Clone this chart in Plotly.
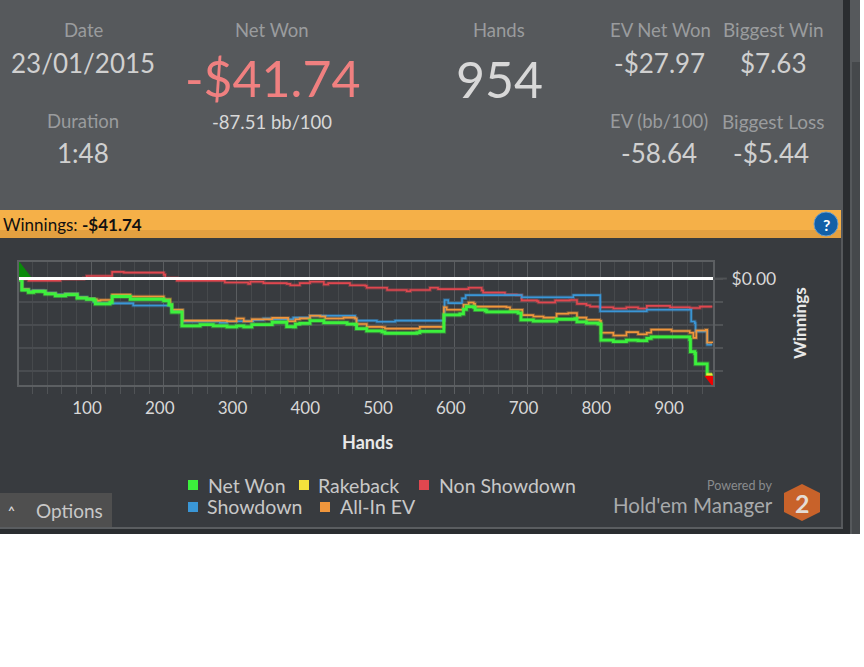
import plotly.graph_objects as go

W, H = 864, 667

# --- Data
net_hands = [1, 3, 5, 14, 21, 35, 37, 51, 65, 78, 81, 94, 104, 106, 126, 129, 152, 154, 188, 200, 207, 211, 223, 225, 250, 268, 287, 300, 310, 321, 346, 349, 367, 369, 378, 381, 387, 401, 415, 420, 447, 452, 463, 465, 477, 479, 500, 504, 548, 552, 582, 585, 607, 612, 616, 626, 628, 642, 644, 676, 687, 691, 708, 736, 740, 765, 768, 781, 797, 799, 801, 818, 836, 852, 864, 870, 923, 924, 930, 931, 945, 947, 954]
net_won = [0, -0.6, -5, -6, -5.6, -5.7, -6.7, -7.5, -7, -7, -8.5, -9, -9.6, -11, -10.4, -7.8, -7.8, -9, -9, -9.6, -11.4, -14.6, -14.6, -20.6, -20, -20.6, -21, -20.6, -21, -20, -20, -19, -19, -20.9, -21, -19.8, -19.5, -18.3, -18.3, -19.2, -19.2, -19.8, -20, -21.8, -21.8, -22.8, -23.2, -23.8, -23.5, -23, -23, -15.8, -15.4, -13.4, -12.2, -12.5, -13.6, -14, -14.5, -14.5, -15, -18, -18.5, -18.5, -17.7, -17.4, -18.8, -19.4, -19.7, -19.8, -26.8, -27.4, -26.8, -27, -26, -25.4, -26.5, -31.8, -32.6, -37.1, -37.1, -41.9, -41.74]

ev_hands = [1, 3, 5, 14, 21, 35, 37, 51, 65, 78, 81, 94, 104, 108, 113, 126, 129, 152, 154, 188, 200, 209, 211, 223, 226, 250, 268, 287, 300, 310, 321, 346, 349, 367, 371, 381, 387, 401, 415, 422, 447, 463, 465, 477, 479, 500, 504, 548, 552, 582, 585, 589, 607, 612, 619, 626, 628, 671, 676, 690, 693, 708, 722, 740, 756, 768, 781, 799, 801, 818, 836, 852, 864, 870, 898, 923, 928, 932, 945, 947, 954]
all_in_ev = [0, -0.6, -4.7, -5.8, -5.4, -5.5, -6.5, -7.3, -6.8, -6.8, -8.3, -8.8, -9, -9.6, -9.3, -9.3, -7, -7, -7.8, -7.8, -9, -11.4, -13.6, -13.6, -18.3, -18.3, -18.3, -18.6, -17.4, -18.6, -17.7, -17.7, -17.1, -17.1, -18.6, -17.7, -17.3, -16.2, -16.5, -17.4, -17, -17.4, -19.8, -19.8, -21, -21.2, -21.8, -21.8, -21, -21, -12.5, -13.6, -13.6, -11.4, -10.4, -11, -12.2, -12.5, -13.6, -13.6, -15.9, -16.5, -17, -15.3, -15, -17, -17.9, -18.4, -23.6, -24.8, -23.3, -24.2, -23.6, -22.2, -22.8, -23.6, -25.8, -22.6, -22.3, -27.8, -28]

sd_hands = [1, 3, 5, 14, 21, 35, 37, 51, 65, 78, 81, 94, 104, 110, 154, 158, 200, 209, 211, 223, 226, 277, 287, 323, 337, 346, 378, 387, 401, 447, 463, 465, 490, 493, 516, 518, 584, 586, 591, 607, 610, 615, 690, 692, 761, 763, 797, 800, 861, 864, 923, 925, 930, 931, 945, 947, 954]
showdown = [0, -0.6, -4.7, -5.5, -5.2, -5.3, -6.3, -7, -6.6, -6.6, -8.1, -8.8, -10.2, -10.8, -10.8, -11.7, -11.7, -12, -13.9, -13.9, -18.7, -19.2, -18.6, -18, -17.4, -17.7, -17, -17, -16.2, -16.2, -17.4, -18.3, -18.3, -18.8, -18.8, -18.3, -18.3, -9.3, -10.7, -10.7, -8.6, -7.2, -7.2, -8.1, -8.1, -7.2, -7.2, -14.2, -14.2, -13.6, -13.6, -18.7, -19.4, -23, -23, -28.8, -28.8]

nsd_hands = [1, 3, 14, 49, 58, 90, 94, 126, 129, 145, 190, 200, 202, 218, 282, 284, 314, 316, 319, 335, 337, 369, 374, 387, 401, 415, 420, 426, 449, 456, 477, 479, 504, 507, 532, 534, 539, 561, 566, 577, 614, 619, 637, 639, 665, 669, 685, 692, 713, 715, 736, 738, 758, 768, 781, 786, 799, 818, 836, 852, 864, 889, 896, 923, 937, 954]
non_showdown = [0, -0.3, -0.9, -0.9, -0.3, 0.3, 1.1, 1.1, 2.9, 2.6, 2.6, 1.7, 0.3, -0.9, -0.9, -1.7, -1.7, -2.3, -1.4, -1.4, -2, -2.3, -2.9, -2, -1.4, -1.4, -2.6, -2, -2, -2.9, -3.2, -4, -4, -5, -5, -5.5, -5, -5, -4, -4.6, -4.6, -4, -5.2, -6.1, -6.1, -7, -7.2, -9.5, -9.8, -10.4, -10.4, -9.5, -9.3, -11, -11.6, -12.2, -12.5, -13, -12.5, -13, -11.9, -11.9, -12.5, -12.8, -12.2, -12.2]

rb_hands = [946, 954]
rakeback = [-41.7, -41.7]

x_ticks = [100, 200, 300, 400, 500, 600, 700, 800, 900]
y_ticks = [0, -10, -20, -30, -40]
y_labels = ["$0.00", "", "", "", ""]

GREEN, YELLOW, RED, BLUE, ORANGE = "#3cf03c", "#f5e23c", "#e0474f", "#3a96d6", "#f0963c"
FONT = "Lato"

def fx(px):
    return px / W

def fy(py):
    return 1 - py / H

def rect(x0, y0, x1, y1, color):
    return dict(type="rect", xref="paper", yref="paper", x0=fx(x0), x1=fx(x1), y0=fy(y0), y1=fy(y1),
                fillcolor=color, line_width=0, layer="below")

def label(px, py, text, size, color="#d8d8d8", **kw):
    return dict(xref="paper", yref="paper", x=fx(px), y=fy(py), text=text, showarrow=False,
                font=dict(family=FONT, size=size, color=color), xanchor=kw.pop("xanchor", "center"),
                yanchor="middle", **kw)

fig = go.Figure()

# --- Lines, soft copy underneath then the sharp one
series = [
    ("Non Showdown", nsd_hands, non_showdown, RED, 1.6),
    ("Showdown", sd_hands, showdown, BLUE, 1.6),
    ("All-In EV", ev_hands, all_in_ev, ORANGE, 1.6),
    ("Net Won", net_hands, net_won, GREEN, 2.8),
    ("Rakeback", rb_hands, rakeback, YELLOW, 2),
]
for name, xs, ys, color, width in series:
    fig.add_trace(go.Scatter(x=xs, y=ys, mode="lines", line=dict(color=color, width=width + 1.8, shape="hv"),
                             opacity=0.35, showlegend=False, hoverinfo="skip"))
    fig.add_trace(go.Scatter(x=xs, y=ys, mode="lines", name=name, line=dict(color=color, width=width, shape="hv"),
                             showlegend=False))

# --- Biggest win / biggest loss flags, clipped by the plot edge
fig.add_trace(go.Scatter(x=[1], y=[3], mode="markers", showlegend=False,
                         marker=dict(symbol="triangle-up", size=21, color="#0a8a0a")))
fig.add_trace(go.Scatter(x=[955], y=[-43.9], mode="markers", showlegend=False,
                         marker=dict(symbol="triangle-down", size=15, color="#f00000")))

shapes = [
    rect(0, 0, 843, 528, "#383b3f"),
    rect(0, 0, 843, 210, "#56595c"),
    rect(0, 210, 841, 230, "#f5b048"),
    rect(0, 230, 841, 238, "#e3a040"),
    rect(841, 210, 843, 528, "#55585b"),
    rect(0, 527, 843, 529, "#5a5d60"),
    rect(0, 529, 850, 534, "#2a2d30"),
    rect(843, 0, 850, 534, "#2a2d30"),
    rect(850, 0, 860, 534, "#56595c"),
    rect(852, 62, 860, 534, "#45484b"),
    rect(0, 493, 112, 527, "#4f4f4f"),
    dict(type="circle", xref="paper", yref="paper", x0=fx(814), x1=fx(838), y0=fy(236), y1=fy(212),
         fillcolor="#1260a8", line=dict(color="#6f9ec6", width=1)),
    dict(type="path", xref="paper", yref="paper", fillcolor="#c8622a", line_width=0,
         path=f"M {fx(802)} {fy(484)} L {fx(820)} {fy(493)} L {fx(820)} {fy(512)} "
              f"L {fx(802)} {fy(521)} L {fx(784)} {fy(512)} L {fx(784)} {fy(493)} Z"),
    dict(type="line", xref="x domain", yref="y", x0=0, x1=1, y0=0, y1=0,
         line=dict(color="#ffffff", width=3), layer="above"),
    dict(type="line", xref="x domain", yref="y", x0=1, x1=1.02, y0=0, y1=0,
         line=dict(color="#505356", width=2)),
]

# --- Legend keys
legend_names = ["Net Won", "Rakeback", "Non Showdown", "Showdown", "All-In EV"]
legend_colors = [GREEN, YELLOW, RED, BLUE, ORANGE]
legend_keys = [(188, 485), (299, 485), (419, 485), (188, 507), (320, 507)]
legend_text_x = [206, 316, 437, 205, 338]
for (kx, ky), color in zip(legend_keys, legend_colors):
    shapes.append(rect(kx, ky - 5, kx + 10, ky + 5, color))

annotations = [
    label(83, 30, "Date", 18.5, "#9a9c9e"),
    label(83, 63, "23/01/2015", 26, "#d0d0d0"),
    label(83, 121, "Duration", 18.5, "#9a9c9e"),
    label(83, 153, "1:48", 26, "#d0d0d0"),
    label(272, 30, "Net Won", 18.5, "#9a9c9e"),
    label(272, 78, "-$41.74", 50, "#f08080"),
    label(272, 122, "-87.51 bb/100", 18.5, "#d8d8d8"),
    label(499, 30, "Hands", 18.5, "#9a9c9e"),
    label(499, 79, "954", 50, "#d8d8d8"),
    label(660, 30, "EV Net Won", 18.5, "#9a9c9e"),
    label(659, 63, "-$27.97", 26, "#d0d0d0"),
    label(659, 121, "EV (bb/100)", 18.5, "#9a9c9e"),
    label(659, 153, "-58.64", 26, "#d0d0d0"),
    label(773, 30, "Biggest Win", 19, "#9a9c9e"),
    label(773, 63, "$7.63", 26, "#d0d0d0"),
    label(773, 121, "Biggest Loss", 19, "#9a9c9e"),
    label(771, 153, "-$5.44", 26, "#d0d0d0"),
    label(1, 224, "Winnings: <b>-$41.74</b>", 17, "#111111", xanchor="left"),
    label(826, 224, "<b>?</b>", 16, "#ffffff"),
    label(367, 442, "<b>Hands</b>", 18, "#e8e8e8"),
    label(799, 323, "<b>Winnings</b>", 17, "#e8e8e8", textangle=-90),
    label(11, 510, "<b>^</b>", 12, "#d8d8d8"),
    label(69, 510, "Options", 19, "#c8c8c8"),
    label(739, 486, "Powered by", 12.5, "#8a8c8e"),
    label(693, 505, "Hold'em Manager", 20.5, "#a8aaac"),
    label(802, 503, "<b>2</b>", 25, "#e4dcd4"),
]
for name, tx, (kx, ky) in zip(legend_names, legend_text_x, legend_keys):
    annotations.append(label(tx, ky, name, 19.5, "#c8c8c8", xanchor="left"))

fig.update_layout(
    width=W, height=H, margin=dict(l=0, r=0, t=0, b=0), paper_bgcolor="#ffffff", plot_bgcolor="rgba(0,0,0,0)",
    font=dict(family=FONT, color="#d8d8d8"), shapes=shapes, annotations=annotations, showlegend=False,
    xaxis=dict(domain=[fx(19), fx(713)], range=[1, 955], tickvals=x_ticks, ticks="outside", ticklen=7, tickwidth=1,
               tickcolor="#5c5f62", tickfont=dict(family=FONT, size=17, color="#d8d8d8"), ticklabelshift=-4,
               showgrid=True, gridcolor="#5a5d60", gridwidth=1, zeroline=False, showline=True, linecolor="#5c5f62",
               linewidth=2, mirror=True, minor=dict(dtick=20, tick0=0, showgrid=True, gridcolor="#46494c", gridwidth=1,
                                                    ticks="outside", ticklen=7, tickcolor="#505356")),
    yaxis=dict(domain=[fy(385), fy(262)], range=[-46.3, 7.2], side="right", tickvals=y_ticks, ticktext=y_labels,
               ticks="outside", ticklen=8, tickcolor="#505356", tickwidth=2, ticklabelstandoff=5,
               tickfont=dict(family=FONT, size=17.5, color="#d8d8d8"), showgrid=True, gridcolor="#494c50", gridwidth=2,
               zeroline=False, showline=True, linecolor="#5c5f62", linewidth=2, mirror=True),
)

fig.write_html("out.html", config=dict(displayModeBar=False), post_script="document.body.style.margin='0';")
